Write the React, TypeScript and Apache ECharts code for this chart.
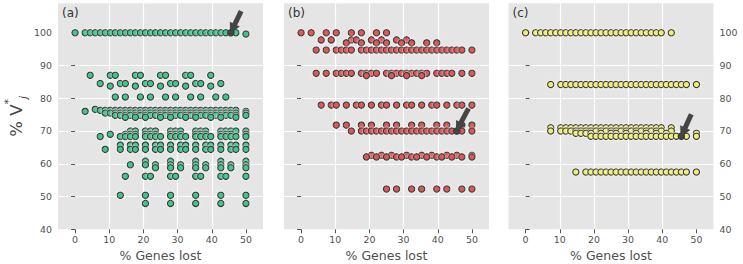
import React, { useEffect, useRef } from "react";
import * as echarts from "echarts";

// x values are read as "genes lost" counts out of 68 genes, shown as a percentage
const GENES_TOTAL = 68;
const X_TICKS = [0, 10, 20, 30, 40, 50];
const Y_TICKS = [40, 50, 60, 70, 80, 90, 100];
const PANEL_LABELS = ["(a)", "(b)", "(c)"];
const X_NAME = "% Genes lost";

const COLOR_A = "#3cc88c";
const COLOR_B = "#e65555";
const COLOR_C = "#f0f070";
const COLOR_MARK = "#454545";

// Panel (a): [% V*j, genes-lost counts]
const panelA: [number, number[]][] = [
  [100, [0, 2, 3, 4, 5, 6, 7, 8, 9, 10, 11, 12, 13, 14, 15, 16, 17, 18, 19, 20, 21, 22, 23, 24, 25, 26, 27, 28, 29, 30, 32]],
  [99.6, [34]],
  [87.0, [3, 7, 8, 12, 13, 17, 18, 22, 23, 27]],
  [84.5, [5, 9, 10, 14, 15, 19, 20, 24, 25, 29]],
  [83.7, [7, 12, 17, 22, 27]],
  [80.4, [8, 10, 13, 15, 18, 20, 23, 25, 28, 30]],
  [76.6, [4]],
  [76.0, [2, 34]],
  [76.3, [5, 6, 7, 8, 9, 10, 11, 12, 13, 14, 15, 16, 17, 18, 19, 20, 21, 22, 23, 24, 25, 26, 27, 28, 29, 30, 31, 32]],
  [75.5, [6, 7, 8, 9, 10, 11, 12, 13, 14, 15, 16, 17, 18, 19, 20, 21, 22, 23, 24, 25, 26, 27, 28, 29, 30, 31, 32, 34]],
  [74.8, [8, 9, 10, 11, 12, 13, 14, 15, 16, 17, 18, 19, 20, 21, 22, 23, 24, 25, 26, 27, 28, 29, 30, 31, 32, 34]],
  [74.2, [10, 12, 14, 17, 19, 22, 24, 27, 29, 32]],
  [70.0, [11, 12, 14, 15, 16, 19, 20, 21, 24, 25, 26, 29, 30, 31, 32, 34]],
  [69.0, [7, 10, 11, 12, 14, 15, 16, 19, 20, 21, 24, 25, 26, 29, 30, 31, 34]],
  [68.3, [5, 9, 10, 11, 12, 14, 15, 16, 17, 19, 20, 21, 22, 24, 25, 26, 27, 29, 30, 31, 32, 34]],
  [65.7, [9, 11, 12, 14, 16, 17, 19, 21, 22, 24, 26, 27, 29, 31, 32, 34]],
  [64.4, [6, 9, 11, 12, 14, 16, 17, 19, 21, 22, 24, 26, 27, 29, 31, 32, 34]],
  [60.8, [14, 19, 24, 29, 34]],
  [59.7, [11, 14, 16, 19, 21, 24, 26, 29, 31, 34]],
  [58.8, [16, 19, 21, 24, 26, 29, 31, 34]],
  [56.2, [10, 14, 15, 19, 20, 24, 25, 29, 30, 34]],
  [50.4, [9, 14, 19, 24, 29, 34]],
  [47.9, [14, 19, 24, 29, 34]],
];

// Panel (b)
const panelB: [number, number[]][] = [
  [100, [0, 2, 5, 7, 10, 12, 15, 17]],
  [97.8, [4, 6, 10, 11, 14, 16, 19, 21]],
  [96.9, [9, 12, 15, 17, 20, 22, 25, 27]],
  [94.7, [3, 5, 7, 8, 9, 10, 12, 13, 14, 15, 16, 17, 18, 19, 20, 21, 22, 23, 24, 25, 26, 27, 28, 29, 30, 31, 32, 34]],
  [87.6, [3, 5, 7, 8, 9, 10, 12, 13, 14, 15, 17, 18, 19, 20, 21, 22, 23, 24, 25, 27, 28, 29, 30, 32, 34]],
  [86.9, [13, 18, 21, 24]],
  [77.9, [4, 6, 7, 9, 11, 12, 14, 16, 17, 19, 21, 22, 24, 26, 27, 29, 31, 32, 34]],
  [71.8, [7, 9, 12, 14, 17, 19, 22, 24, 27, 29, 32, 34]],
  [70.0, [10, 12, 13, 14, 15, 16, 17, 18, 19, 20, 21, 22, 23, 24, 25, 26, 27, 28, 29, 30, 32, 34]],
  [62.6, [14, 16, 18, 21, 24, 26, 29, 31, 34]],
  [62.1, [13, 15, 17, 19, 20, 22, 23, 25, 27, 28, 30, 32, 34]],
  [52.3, [17, 19, 22, 24, 27, 29, 32, 34]],
];

// Panel (c)
const panelC: [number, number[]][] = [
  [100, [0, 2, 3, 4, 5, 6, 7, 8, 9, 10, 11, 12, 13, 14, 15, 16, 17, 18, 19, 20, 21, 22, 23, 24, 25, 26, 27, 29]],
  [84.2, [5, 7, 8, 9, 10, 11, 12, 13, 14, 15, 16, 17, 18, 19, 20, 21, 22, 23, 24, 25, 26, 27, 28, 29, 30, 31, 32, 34]],
  [71.0, [5, 7, 8, 9, 10, 11, 12, 13, 14, 15, 16, 17, 18, 19, 20, 21, 22, 23, 24, 25, 26, 27, 29]],
  [70.0, [5, 7, 8, 9, 10, 11, 12, 13, 14, 15, 16, 17, 18, 19, 20, 21, 22, 23, 24, 25, 26, 27, 29]],
  [69.3, [10, 11, 12, 13, 15, 17, 18, 20, 22, 24, 26, 28, 34]],
  [68.4, [13, 14, 15, 16, 17, 18, 19, 20, 21, 22, 23, 24, 25, 26, 27, 28, 29, 30, 32, 34]],
  [57.5, [10, 12, 13, 14, 15, 16, 17, 18, 19, 20, 21, 22, 23, 24, 25, 26, 27, 28, 29, 30, 31, 32, 34]],
];

// highlighted point in each panel: [genes lost count, % V*j]
const highlights: [number, number][] = [
  [31, 100],
  [31, 70.0],
  [31, 68.4],
];

// arrows: [[tail x%, tail y], [head x%, head y]]
const arrows: [number, number][][] = [
  [[48.6, 106.6], [46.05, 101.1]],
  [[49.0, 76.9], [46.05, 71.1]],
  [[48.5, 75.1], [46.05, 69.5]],
];

const FONT = "DejaVu Sans";
const GRID_LEFTS = [58, 284, 508.5];
const GRID_W = 205;
const GRID_TOP = 3.2;
const GRID_H = 226.1;

const toPct = (k: number) => (k / GENES_TOTAL) * 100;

function rowsToPoints(rows: [number, number[]][]) {
  const pts: number[][] = [];
  rows.forEach(([y, ks]) => ks.forEach((k) => pts.push([toPct(k), y])));
  return pts;
}

export default function App() {
  const ref = useRef<HTMLDivElement>(null);
  useEffect(() => {
    if (!ref.current) return;
    const chart = echarts.init(ref.current, null, { renderer: "svg" });
    const panels = [panelA, panelB, panelC];
    const colors = [COLOR_A, COLOR_B, COLOR_C];

    const grid = GRID_LEFTS.map((l) => ({
      left: l,
      top: GRID_TOP,
      width: GRID_W,
      height: GRID_H,
      show: true,
      backgroundColor: "#E5E5E5",
      borderWidth: 0,
      containLabel: false,
      outerBoundsMode: "none",
    }));

    const xAxis = GRID_LEFTS.map((_, i) => ({
      type: "value",
      gridIndex: i,
      min: -5,
      max: 55,
      minInterval: 10,
      maxInterval: 10,
      axisLine: { show: false },
      axisTick: { show: true, length: 4, customValues: X_TICKS, lineStyle: { color: "#555555", width: 1 } },
      axisLabel: { customValues: X_TICKS, color: "#505050", fontSize: 9.4, margin: 6, fontFamily: FONT },
      splitLine: { show: true, showMinLine: false, showMaxLine: false, lineStyle: { color: "#ffffff", width: 1.2 } },
      name: X_NAME,
      nameLocation: "middle",
      nameGap: 20,
      nameTextStyle: { color: "#505050", fontSize: 12.5, fontFamily: FONT },
    }));

    const yAxis = GRID_LEFTS.map((_, i) => {
      const base: any = {
        type: "value",
        gridIndex: i,
        min: 40,
        max: 109,
        minInterval: 10,
        maxInterval: 10,
        position: i === 2 ? "right" : "left",
        axisLine: { show: false },
        axisTick: { show: true, length: 4, customValues: Y_TICKS, lineStyle: { color: "#555555", width: 1 } },
        axisLabel: {
          show: i !== 1,
          customValues: Y_TICKS,
          color: "#505050",
          fontSize: 9.4,
          margin: 6,
          fontFamily: FONT,
        },
        splitLine: { show: true, showMinLine: false, showMaxLine: false, lineStyle: { color: "#ffffff", width: 1.2 } },
      };
      if (i === 0) {
        base.name = "{p|% V}{sup|*}{sub|j}";
        base.nameLocation = "middle";
        base.nameRotate = 90;
        base.nameGap = 29;
        base.nameTextStyle = {
          color: "#444444",
          fontFamily: FONT,
          rich: {
            p: { fontSize: 16.5, color: "#444444", fontFamily: FONT, lineHeight: 26 },
            sup: { fontSize: 11, color: "#444444", fontFamily: FONT, verticalAlign: "top", lineHeight: 12 },
            sub: { fontSize: 11, color: "#444444", fontFamily: FONT, fontStyle: "italic", verticalAlign: "bottom", lineHeight: 12 },
          },
        };
      }
      return base;
    });

    const series: any[] = [];
    panels.forEach((rows, i) => {
      series.push({
        type: "scatter",
        xAxisIndex: i,
        yAxisIndex: i,
        data: rowsToPoints(rows),
        symbol: "circle",
        symbolSize: 6.3,
        itemStyle: {
          color: colors[i],
          borderColor: "#3a3a3a",
          borderWidth: 1.2,
          opacity: 1,
          shadowBlur: 2,
          shadowColor: "rgba(255,255,255,0.9)",
        },
        z: 2,
        silent: true,
      });
      series.push({
        type: "scatter",
        xAxisIndex: i,
        yAxisIndex: i,
        data: [[toPct(highlights[i][0]), highlights[i][1]]],
        symbol: "circle",
        symbolSize: 6.3,
        itemStyle: { color: COLOR_MARK, borderColor: "#3a3a3a", borderWidth: 1.2, opacity: 1 },
        z: 3,
        silent: true,
      });
      series.push({
        type: "lines",
        coordinateSystem: "cartesian2d",
        xAxisIndex: i,
        yAxisIndex: i,
        data: [{ coords: arrows[i] }],
        symbol: ["none", "triangle"],
        symbolSize: [12, 11],
        lineStyle: { color: COLOR_MARK, width: 5, opacity: 1, curveness: 0 },
        effect: { show: false },
        z: 4,
        silent: true,
      });
    });

    const graphic = GRID_LEFTS.map((l, i) => ({
      type: "text",
      left: l + 4,
      top: 7,
      style: { text: PANEL_LABELS[i], fill: "#333333", fontSize: 12, fontFamily: FONT },
      silent: true,
    }));

    chart.setOption({
      animation: false,
      textStyle: { fontFamily: FONT },
      grid,
      xAxis,
      yAxis,
      series,
      graphic,
    });
    return () => chart.dispose();
  }, []);

  return (
    <div
      ref={ref}
      style={{ position: "fixed", left: 0, top: 0, width: 743, height: 264, background: "#ffffff" }}
    />
  );
}
